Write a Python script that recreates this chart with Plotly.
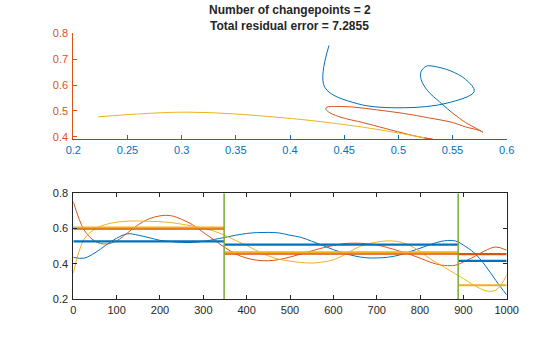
import plotly.graph_objects as go

# Sample index of each reading of the three-channel signal
t = [0, 25, 50, 75, 100, 125, 150, 175, 200, 225, 250, 275, 300, 325, 348,
     375, 400, 425, 450, 475, 500, 525, 550, 575, 600, 625, 650, 675, 700,
     725, 750, 775, 800, 825, 850, 875, 888, 900, 925, 950, 975, 1000]

ch1 = [0.436, 0.432, 0.462, 0.505, 0.545, 0.570, 0.562, 0.548, 0.533, 0.526,
       0.521, 0.521, 0.527, 0.538, 0.549, 0.562, 0.572, 0.577, 0.578, 0.575,
       0.562, 0.550, 0.528, 0.505, 0.480, 0.460, 0.444, 0.434, 0.433, 0.437,
       0.448, 0.467, 0.488, 0.510, 0.528, 0.532, 0.524, 0.506, 0.462, 0.392,
       0.305, 0.223]

ch2 = [0.753, 0.592, 0.528, 0.512, 0.530, 0.575, 0.622, 0.655, 0.672, 0.673,
       0.652, 0.622, 0.578, 0.535, 0.495, 0.455, 0.432, 0.420, 0.417, 0.424,
       0.438, 0.455, 0.473, 0.490, 0.504, 0.514, 0.517, 0.514, 0.507, 0.492,
       0.474, 0.455, 0.432, 0.408, 0.392, 0.390, 0.396, 0.410, 0.440, 0.474,
       0.495, 0.477]

ch3 = [0.347, 0.540, 0.597, 0.623, 0.636, 0.642, 0.643, 0.641, 0.639, 0.634,
       0.625, 0.614, 0.602, 0.585, 0.563, 0.532, 0.504, 0.472, 0.445, 0.425,
       0.415, 0.407, 0.404, 0.410, 0.422, 0.450, 0.485, 0.510, 0.523, 0.530,
       0.526, 0.505, 0.470, 0.425, 0.390, 0.352, 0.334, 0.316, 0.278, 0.248,
       0.250, 0.336]

# Detected changepoints and the per-segment channel means
changepoints = [348, 888]
seg_start = [0, 348, 888]
seg_end = [348, 888, 1000]
mean_ch1 = [0.527, 0.509, 0.416]
mean_ch2 = [0.599, 0.457, 0.455]
mean_ch3 = [0.606, 0.465, 0.278]

n_changepoints = 2
residual_error = 7.2855

top_xticks = [0.2, 0.25, 0.3, 0.35, 0.4, 0.45, 0.5, 0.55, 0.6]
top_xtext = ["0.2", "0.25", "0.3", "0.35", "0.4", "0.45", "0.5", "0.55", "0.6"]
top_yticks = [0.4, 0.5, 0.6, 0.7, 0.8]
top_ytext = ["0.4", "0.5", "0.6", "0.7", "0.8"]
bot_xticks = [0, 100, 200, 300, 400, 500, 600, 700, 800, 900, 1000]
bot_yticks = [0.2, 0.4, 0.6, 0.8]
bot_ytext = ["0.2", "0.4", "0.6", "0.8"]

BLUE = "#0072BD"
ORANGE = "#D95319"
YELLOW = "#EDB120"
GREEN = "#77AC30"
DARK = "#262626"
FONT = "Liberation Sans, Arial, Helvetica, sans-serif"
TICK_SIZE = 11
seg_colors = [BLUE, ORANGE, YELLOW]

fig = go.Figure()

# Upper panel: channel 1 against channel 2, one colour per segment
bounds = [0] + [t.index(c) for c in changepoints] + [len(t) - 1]
for k in range(len(bounds) - 1):
    a, b = bounds[k], bounds[k + 1]
    fig.add_trace(go.Scatter(
        x=ch1[a:b + 1], y=ch2[a:b + 1], mode="lines",
        line=dict(color=seg_colors[k], width=1, shape="spline"),
        xaxis="x", yaxis="y", showlegend=False, hoverinfo="skip"))

# Lower panel: the three channels over time
for vals, col in zip([ch1, ch2, ch3], [BLUE, ORANGE, YELLOW]):
    fig.add_trace(go.Scatter(
        x=t, y=vals, mode="lines",
        line=dict(color=col, width=1, shape="spline"),
        xaxis="x2", yaxis="y2", showlegend=False, hoverinfo="skip"))

# Segment means
for means, col in zip([mean_ch1, mean_ch2, mean_ch3], [BLUE, ORANGE, YELLOW]):
    for s, e, m in zip(seg_start, seg_end, means):
        fig.add_trace(go.Scatter(
            x=[s, e], y=[m, m], mode="lines",
            line=dict(color=col, width=2.2),
            xaxis="x2", yaxis="y2", showlegend=False, hoverinfo="skip"))

# Changepoint markers
for c in changepoints:
    fig.add_trace(go.Scatter(
        x=[c, c], y=[0.2, 0.8], mode="lines",
        line=dict(color=GREEN, width=1.5),
        xaxis="x2", yaxis="y2", showlegend=False, hoverinfo="skip"))

W, H = 560, 337


def px_x(p):
    return p / W


def px_y(p):
    return 1 - p / H


x0, x1 = px_x(73.3), px_x(506.7)

common = dict(ticks="inside", ticklen=4, showline=True, linewidth=1,
              showgrid=False, zeroline=False, automargin=False)

fig.update_layout(
    template="none",
    width=W, height=H,
    margin=dict(l=0, r=0, t=0, b=0, pad=0, autoexpand=False),
    paper_bgcolor="white", plot_bgcolor="white",
    font=dict(family=FONT, size=TICK_SIZE, color=DARK),
    xaxis=dict(domain=[x0, x1], range=[0.2, 0.6], tickvals=top_xticks,
               ticktext=top_xtext, tickcolor=BLUE, linecolor=BLUE,
               tickfont=dict(color=BLUE, size=TICK_SIZE),
               ticklabelstandoff=0, anchor="y", **common),
    yaxis=dict(domain=[px_y(139.3), px_y(33.3)], range=[0.39, 0.8],
               tickvals=top_yticks, ticktext=top_ytext, tickcolor=ORANGE,
               linecolor=ORANGE, tickfont=dict(color=ORANGE, size=TICK_SIZE),
               ticklabelstandoff=2, anchor="x", **common),
    xaxis2=dict(domain=[x0, x1], range=[0, 1000], tickvals=bot_xticks,
                tickcolor=DARK, linecolor=DARK, mirror="ticks",
                tickfont=dict(color=DARK, size=TICK_SIZE),
                ticklabelstandoff=1, anchor="y2", **common),
    yaxis2=dict(domain=[px_y(299), px_y(193.3)], range=[0.2, 0.8],
                tickvals=bot_yticks, ticktext=bot_ytext, tickcolor=DARK,
                linecolor=DARK, mirror="ticks",
                tickfont=dict(color=DARK, size=TICK_SIZE),
                ticklabelstandoff=2, anchor="x2", **common),
    annotations=[
        dict(text=f"<b>Number of changepoints = {n_changepoints}</b>",
             x=(x0 + x1) / 2, y=px_y(10), xref="paper", yref="paper",
             xanchor="center", yanchor="middle", showarrow=False,
             font=dict(family=FONT, size=12, color=DARK)),
        dict(text=f"<b>Total residual error = {residual_error:.4f}</b>",
             x=(x0 + x1) / 2, y=px_y(25.5), xref="paper", yref="paper",
             xanchor="center", yanchor="middle", showarrow=False,
             font=dict(family=FONT, size=12, color=DARK)),
    ],
)

fig.write_html("out.html")
